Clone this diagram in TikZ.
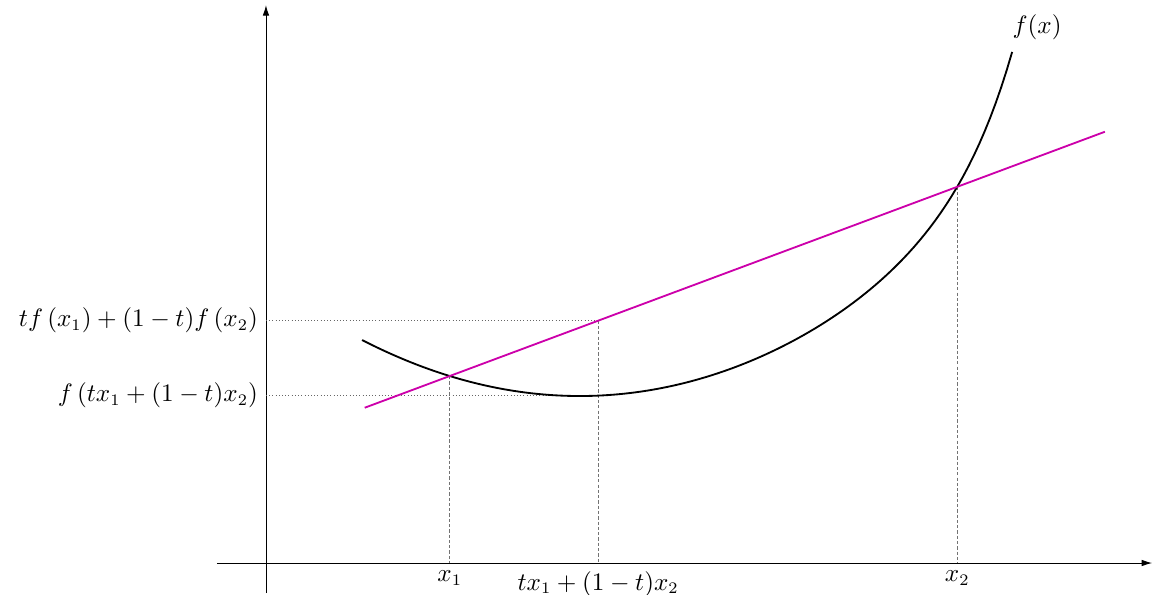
\documentclass[tikz,border=0pt]{standalone}
\usepackage{amsmath}
\usetikzlibrary{calc, arrows.meta}
\definecolor{chordpink}{RGB}{204,0,170}

\begin{document}
\begin{tikzpicture}[
        declare function={f(\x)=2.553+0.0772*(\x-4.801)^2+0.627*exp(1.308*(\x-10.566));},
        every node/.append style={font=\fontsize{10.7pt}{13pt}\selectfont},
        axis/.style={-{Latex[length=1.6mm, width=1mm]}},
        curve/.style={thick, black},
        chord/.style={thick, draw=chordpink},
        guide/.style={black!55, dash pattern=on 1.4pt off 0.9pt},
        level/.style={black!60, densely dotted}
    ]
        \useasboundingbox (-4.067,-0.474) rectangle (13.64,8.609);

        % Axes
        \coordinate (O) at (0,0);
        \coordinate (XS) at (-0.75,0);
        \coordinate (XE) at (13.55,0);
        \coordinate (YS) at (0,-0.46);
        \coordinate (YE) at (0,8.53);
        \draw[axis] (XS) -- (XE);
        \draw[axis] (YS) -- (YE);

        % Points
        \coordinate (A) at (2.81,{f(2.81)});
        \coordinate (B) at (10.57,{f(10.57)});
        \coordinate (M) at ($(A)!0.2925!(B)$);
        \coordinate (C) at (5.08,{f(5.08)});
        \coordinate (A0) at (A |- O);
        \coordinate (M0) at (M |- O);
        \coordinate (B0) at (B |- O);
        \coordinate (MY) at (M -| O);
        \coordinate (CY) at (C -| O);

        % Guides
        \draw[guide] (A) -- (A0);
        \draw[guide] (M) -- (M0);
        \draw[guide] (B) -- (B0);
        \draw[level] (MY) -- (M);
        \draw[level] (CY) -- (C);

        % Function
        \coordinate (FS) at (1.47,{f(1.47)});
        \coordinate (FE) at (11.41,{f(11.41)});
        \draw[curve] plot[domain=1.47:11.41, samples=120] (\x,{f(\x)});
        \node[anchor=south west, inner sep=0pt, yshift=5pt] (fx) at (FE) {$f(x)$};

        % Chord
        \coordinate (L0) at ($(A)!-0.1675!(B)$);
        \coordinate (L1) at ($(A)!1.291!(B)$);
        \draw[chord] (L0) -- (L1);

        % Labels
        \node[below] (lx1) at (A0) {$x_1$};
        \node[below] (lxm) at (M0) {$tx_1+(1-t)x_2$};
        \node[below] (lx2) at (B0) {$x_2$};
        \node[left] (lyc) at (MY) {$tf\left(x_1\right)+(1-t)f\left(x_2\right)$};
        \node[left] (lyf) at (CY) {$f\left(tx_1+(1-t)x_2\right)$};
    \end{tikzpicture}
\end{document}
